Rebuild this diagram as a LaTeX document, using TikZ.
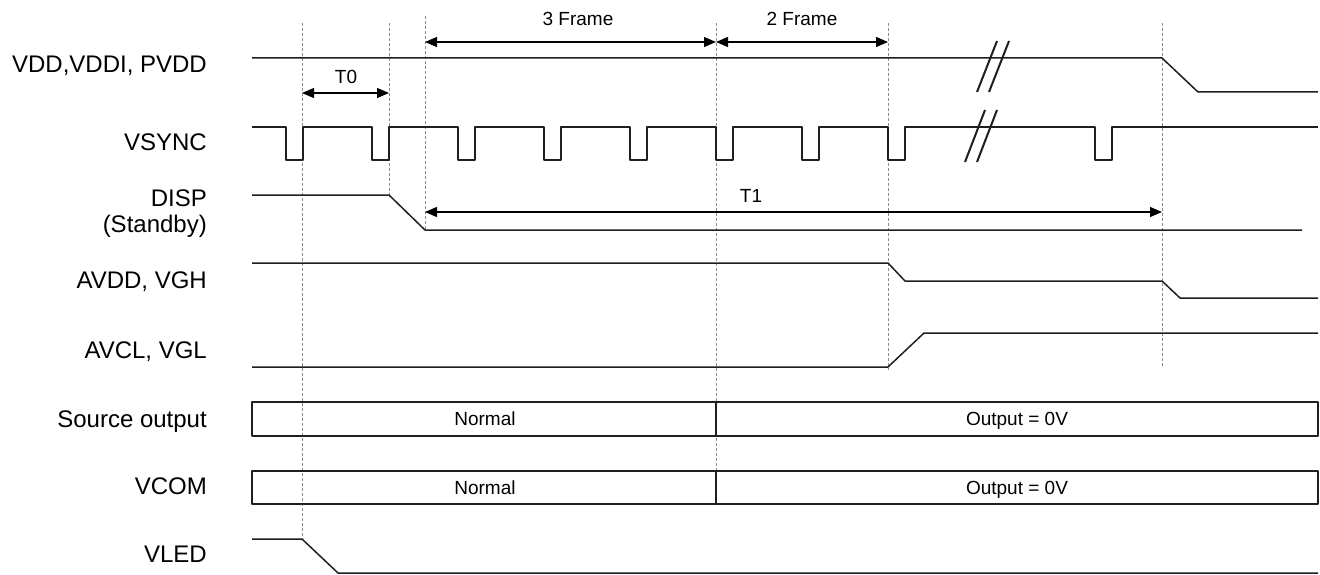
\documentclass[tikz,border=0pt]{standalone}
\usepackage{fontspec}
\setmainfont{Liberation Sans}
\usetikzlibrary{arrows.meta}
\begin{document}
\begin{tikzpicture}[x=1pt,y=-1pt,
  sig/.style={line width=1.5pt, color=black!88, line join=round},
  guide/.style={color=black!45, line width=0.9pt, dash pattern=on 3pt off 2pt},
  lab/.style={anchor=base east, font=\fontsize{24}{28}\selectfont, inner sep=0pt},
  small/.style={anchor=base, font=\fontsize{19}{22}\selectfont, inner sep=0pt},
  dim/.style={line width=1.2pt, {Triangle[length=12pt,width=10pt]}-{Triangle[length=12pt,width=10pt]}},
  brk/.style={line width=2pt, color=black!88},
]
\useasboundingbox (0,0) rectangle (1320,575);

% guide lines
\draw[guide] (302,23) coordinate (g0t) -- (302,539) coordinate (g0b);
\draw[guide] (389,23) coordinate (g1t) -- (389,195) coordinate (g1b);
\draw[guide] (425,16) coordinate (g2t) -- (425,230) coordinate (g2b);
\draw[guide] (716,23) coordinate (g3t) -- (716,470) coordinate (g3b);
\draw[guide] (888,23) coordinate (g4t) -- (888,370) coordinate (g4b);
\draw[guide] (1162,23) coordinate (g5t) -- (1162,366) coordinate (g5b);

% labels
\node[lab] (lvdd) at (207,73) {VDD,VDDI, PVDD};
\node[lab] (lvsync) at (207,151) {VSYNC};
\node[lab] (ldisp) at (207,206) {DISP};
\node[lab] (lstby) at (207,232) {(Standby)};
\node[lab] (lavdd) at (207,288) {AVDD, VGH};
\node[lab] (lavcl) at (207,358) {AVCL, VGL};
\node[lab] (lsrc) at (207,427) {Source output};
\node[lab] (lvcom) at (207,494) {VCOM};
\node[lab] (lvled) at (207,562) {VLED};

% dimension arrows
\coordinate (f3a) at (425,42);
\coordinate (f3b) at (716,42);
\coordinate (f2b) at (888,42);
\draw[dim] (f3a) -- (f3b);
\draw[dim] (f3b) -- (f2b);
\node[small] (t3f) at (578,26) {3 Frame};
\node[small] (t2f) at (802,26) {2 Frame};
\coordinate (t0a) at (302,93);
\coordinate (t0b) at (389,93);
\draw[dim] (t0a) -- (t0b);
\node[small] (tt0) at (346,84) {T0};
\coordinate (t1a) at (425,212);
\coordinate (t1b) at (1162,212);
\draw[dim] (t1a) -- (t1b);
\node[small] (tt1) at (751,202) {T1};

% VDD
\draw[sig] (252,58) -- (1162,58) -- (1198,92) -- (1318,92);
\draw[brk] (977,92) -- (997,41);
\draw[brk] (989,92) -- (1009,41);

% VSYNC
\draw[sig] (252,127)
  \foreach \p in {286,372,458,544,630,716,802,888,1095} {
    -- (\p,127) -- (\p,160) -- (\p+17,160) -- (\p+17,127)
  } -- (1318,127);
\draw[brk] (965,162) -- (985,110);
\draw[brk] (977,162) -- (997,110);

% DISP
\draw[sig] (252,195) -- (389,195) -- (425,230) -- (1302,230);

% AVDD
\draw[sig] (252,263) -- (888,263) -- (905,281) -- (1162,281) -- (1180,298) -- (1318,298);

% AVCL
\draw[sig] (252,367) -- (888,367) -- (924,333) -- (1318,333);

% Source output
\draw[sig, line width=1.3pt] (252,402) rectangle (1318,436);
\draw[sig, line width=1.3pt] (716,402) -- (716,436);
\node[small] (sn) at (485,425) {Normal};
\node[small] (so) at (1017,425) {Output = 0V};

% VCOM
\draw[sig, line width=1.3pt] (252,471) rectangle (1318,504);
\draw[sig, line width=1.3pt] (716,471) -- (716,504);
\node[small] (vn) at (485,494) {Normal};
\node[small] (vo) at (1017,494) {Output = 0V};

% VLED
\draw[sig] (252,539) -- (302,539) -- (338,573) -- (1318,573);
\end{tikzpicture}
\end{document}
